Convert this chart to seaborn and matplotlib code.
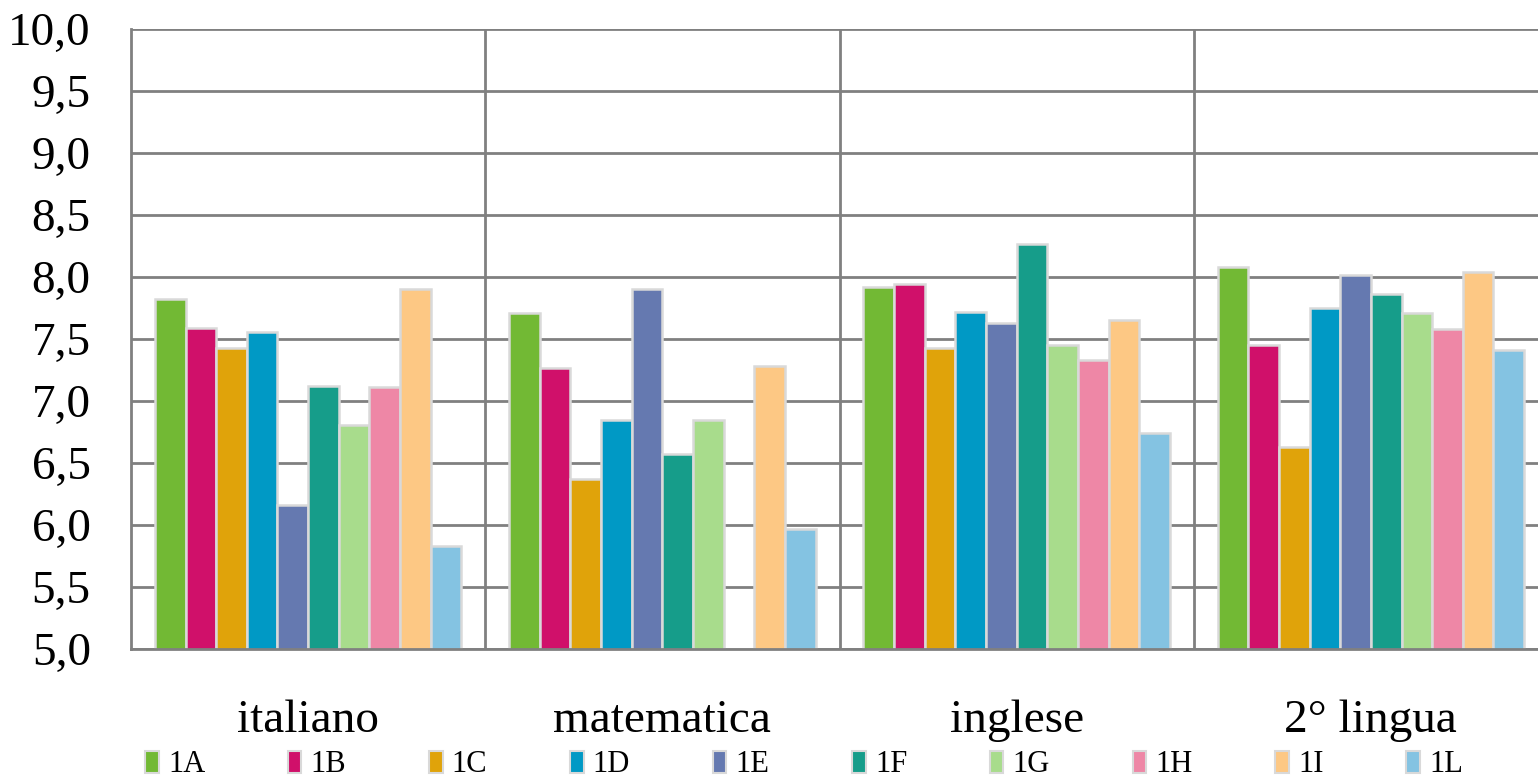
import pandas as pd
import numpy as np
import matplotlib
matplotlib.use("Agg")
import matplotlib.pyplot as plt
from matplotlib.patches import Patch
import seaborn as sns

# Dati: medie voti per materia e classe
materie = ["italiano", "matematica", "inglese", "2° lingua"]
classi = ["1A", "1B", "1C", "1D", "1E", "1F", "1G", "1H", "1I", "1L"]

italiano = [7.82, 7.59, 7.43, 7.56, 6.16, 7.12, 6.81, 7.11, 7.90, 5.83]
matematica = [7.71, 7.27, 6.37, 6.85, 7.90, 6.57, 6.85, 5.00, 7.28, 5.97]
inglese = [7.92, 7.94, 7.43, 7.72, 7.63, 8.27, 7.45, 7.33, 7.65, 6.74]
lingua2 = [8.08, 7.45, 6.63, 7.75, 8.02, 7.86, 7.71, 7.58, 8.04, 7.41]

colori = ["#72B934", "#D0106A", "#E0A30A", "#0099C5", "#6579B0",
          "#169D8A", "#A8DC8C", "#EE87A6", "#FDC884", "#84C3E2"]

valori = [italiano, matematica, inglese, lingua2]
rows = []
for m, vals in zip(materie, valori):
    for c, v in zip(classi, vals):
        rows.append({"materia": m, "classe": c, "voto": v})
df = pd.DataFrame(rows)

sns.set_style("white")
plt.rcParams["font.family"] = ["Liberation Serif", "DejaVu Serif"]
plt.rcParams["text.color"] = "black"
plt.rcParams["xtick.color"] = "black"
plt.rcParams["ytick.color"] = "black"

fig = plt.figure(figsize=(15.38, 7.79), dpi=100)
ax = fig.add_axes([131 / 1538, 1 - 649 / 779, 1417 / 1538, 620 / 779])

sns.barplot(data=df, x="materia", y="voto", hue="classe", order=materie,
            hue_order=classi, palette=colori, width=0.865,
            edgecolor="#d9d9d9", linewidth=1.8, saturation=1, legend=False, ax=ax)

ax.set_ylim(5, 10)
ax.set_xlim(-0.5, 3.5)
ax.set_yticks(np.arange(5, 10.01, 0.5))
ax.set_yticklabels([f"{t:.1f}".replace(".", ",") for t in np.arange(5, 10.01, 0.5)])
ax.set_axisbelow(True)
ax.yaxis.grid(True, color="#808080", linewidth=2)
for xv in [0.5, 1.5, 2.5]:
    ax.axvline(xv, color="#808080", linewidth=2, zorder=0.5)
for s in ["left", "bottom", "top", "right"]:
    ax.spines[s].set_color("#808080")
    ax.spines[s].set_linewidth(2)
ax.spines["top"].set_visible(False)
ax.set_xlabel("")
ax.set_ylabel("")
ax.tick_params(axis="y", length=0, pad=29, labelsize=34, labelcolor="black")
ax.tick_params(axis="x", length=0, pad=36, labelsize=34, labelcolor="black")

handles = [Patch(facecolor=c, edgecolor="#d9d9d9", linewidth=1.5, label=l)
           for c, l in zip(colori, classi)]
fig.legend(handles=handles, ncol=10, loc="center left",
           bbox_to_anchor=(142 / 1538, 1 - 765 / 779, 1324 / 1538, 0),
           mode="expand", frameon=False, fontsize=22, labelcolor="black",
           handlelength=0.45, handleheight=0.75, handletextpad=0.3,
           borderaxespad=0, borderpad=0.1)

fig.savefig("out.png", dpi=100)
